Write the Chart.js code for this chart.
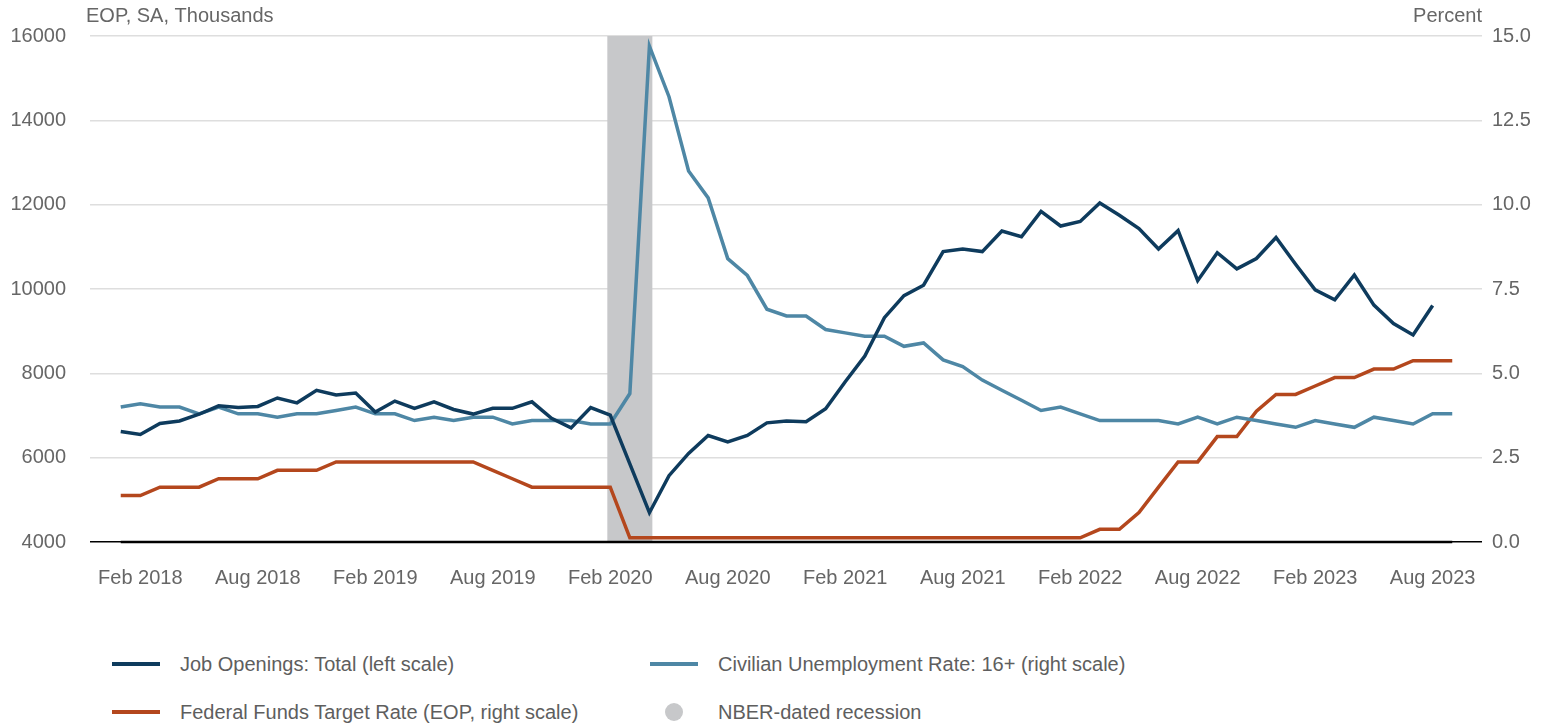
<!DOCTYPE html>
<html>
<head>
<meta charset="utf-8">
<script src="https://cdn.jsdelivr.net/npm/chart.js@4.4.1/dist/chart.umd.min.js"></script>
<style>
  html, body { margin: 0; padding: 0; background: #fff; }
  #wrap { position: relative; width: 1559px; height: 723px; }
  #chart-canvas { position: absolute; left: 0; top: 0; }
  .legend { position: absolute; left: 0; top: 640px; width: 1559px; height: 83px;
            font-family: 'Liberation Sans', Arial, sans-serif; font-size: 20px; color: #5e5e5e; }
  .legend .item { position: absolute; display: flex; align-items: center; height: 24px; }
  .legend .line { width: 48px; height: 4px; margin-right: 20px; }
  .legend .dot { width: 18px; height: 18px; border-radius: 50%; margin: 0 35px 0 15px; }
</style>
</head>
<body>
<div id="wrap">
  <canvas id="chart-canvas" width="1559" height="620"></canvas>
  <div class="legend" id="legend"></div>
</div>
<script>
// monthly, Jan 2018 .. Sep 2023
const monthNames = ['Jan','Feb','Mar','Apr','May','Jun','Jul','Aug','Sep','Oct','Nov','Dec']
const years = [2018, 2019, 2020, 2021, 2022, 2023]
const months = []
years.forEach(y => monthNames.forEach(m => months.push(m + ' ' + y)))
months.length = 69

const xTickLabels = ['Feb 2018','Aug 2018','Feb 2019','Aug 2019','Feb 2020','Aug 2020',
                     'Feb 2021','Aug 2021','Feb 2022','Aug 2022','Feb 2023','Aug 2023']

// Job Openings: Total, thousands (Jan 2018 .. Aug 2023)
const jobOpenings = [
  6620, 6550, 6810, 6870, 7030, 7230, 7190, 7215, 7415, 7300, 7596, 7487,
  7533, 7080, 7342, 7170, 7324, 7143, 7034, 7170, 7170, 7324, 6934, 6707,
  7188, 7007, 5855, 4695, 5574, 6100, 6526, 6372, 6526, 6825, 6870, 6852,
  7160, 7800, 8410, 9320, 9844, 10089, 10887, 10950, 10887, 11376, 11240, 11839,
  11494, 11603, 12038, 11748, 11431, 10950, 11385, 10198, 10860, 10479, 10724, 11222,
  10588, 9980, 9744, 10333, 9617, 9182, 8910, 9608
]

// Civilian Unemployment Rate: 16+, percent (Jan 2018 .. Sep 2023)
const unemployment = [
  4.0, 4.1, 4.0, 4.0, 3.8, 4.0, 3.8, 3.8, 3.7, 3.8, 3.8, 3.9,
  4.0, 3.8, 3.8, 3.6, 3.7, 3.6, 3.7, 3.7, 3.5, 3.6, 3.6, 3.6,
  3.5, 3.5, 4.4, 14.7, 13.2, 11.0, 10.2, 8.4, 7.9, 6.9, 6.7, 6.7,
  6.3, 6.2, 6.1, 6.1, 5.8, 5.9, 5.4, 5.2, 4.8, 4.5, 4.2, 3.9,
  4.0, 3.8, 3.6, 3.6, 3.6, 3.6, 3.5, 3.7, 3.5, 3.7, 3.6, 3.5,
  3.4, 3.6, 3.5, 3.4, 3.7, 3.6, 3.5, 3.8, 3.8
]

// Federal Funds Target Rate (EOP), percent (Jan 2018 .. Sep 2023)
const fedFunds = [
  1.375, 1.375, 1.625, 1.625, 1.625, 1.875, 1.875, 1.875, 2.125, 2.125, 2.125, 2.375,
  2.375, 2.375, 2.375, 2.375, 2.375, 2.375, 2.375, 2.125, 1.875, 1.625, 1.625, 1.625,
  1.625, 1.625, 0.125, 0.125, 0.125, 0.125, 0.125, 0.125, 0.125, 0.125, 0.125, 0.125,
  0.125, 0.125, 0.125, 0.125, 0.125, 0.125, 0.125, 0.125, 0.125, 0.125, 0.125, 0.125,
  0.125, 0.125, 0.375, 0.375, 0.875, 1.625, 2.375, 2.375, 3.125, 3.125, 3.875, 4.375,
  4.375, 4.625, 4.875, 4.875, 5.125, 5.125, 5.375, 5.375, 5.375
]

// NBER-dated recession (first and last month)
const recession = ['Feb 2020', 'Apr 2020']

const FONT = "'Liberation Sans', Arial, sans-serif"
const TEXT = '#666666'

function toPoints(values) {
    return values.map((v, i) => ({ x: i, y: v }))
}

// gray band + heavier baseline under the data
const backdrop = {
    id: 'backdrop',
    beforeDatasetsDraw(chart) {
        const { ctx, chartArea, scales } = chart
        const x = scales.x
        let x0 = x.getPixelForValue(months.indexOf(recession[0]) - 0.15)
        let x1 = x.getPixelForValue(months.indexOf(recession[1]) + 0.15)
        ctx.save()
        ctx.fillStyle = '#c7c8ca'
        ctx.fillRect(x0, chartArea.top, x1 - x0, chartArea.bottom - chartArea.top)
        ctx.strokeStyle = '#000'
        ctx.lineWidth = 2.5
        ctx.beginPath()
        ctx.moveTo(x.getPixelForValue(0), chartArea.bottom)
        ctx.lineTo(x.getPixelForValue(months.length - 1), chartArea.bottom)
        ctx.stroke()
        ctx.restore()
    },
    afterDraw(chart) {
        const { ctx, chartArea } = chart
        ctx.save()
        ctx.font = '20px ' + FONT
        ctx.fillStyle = TEXT
        ctx.textBaseline = 'middle'
        ctx.textAlign = 'left'
        ctx.fillText('EOP, SA, Thousands', 86, 16)
        ctx.textAlign = 'right'
        ctx.fillText('Percent', chartArea.right, 16)
        ctx.restore()
    }
}

let canvas = document.getElementById('chart-canvas')
let chart = new Chart(canvas.getContext('2d'), {
    type: 'line',
    data: {
        datasets: [{
            label: 'Job Openings: Total (left scale)',
            data: toPoints(jobOpenings),
            borderColor: '#0e3b5d',
            yAxisID: 'y'
        }, {
            label: 'Civilian Unemployment Rate: 16+ (right scale)',
            data: toPoints(unemployment),
            borderColor: '#4e87a5',
            yAxisID: 'y1'
        }, {
            label: 'Federal Funds Target Rate (EOP, right scale)',
            data: toPoints(fedFunds),
            borderColor: '#b4471d',
            yAxisID: 'y1'
        }]
    },
    options: {
        responsive: false,
        animation: false,
        layout: { padding: { top: 36, left: 0, right: 0, bottom: 0 } },
        elements: {
            point: { radius: 0 },
            line: { borderWidth: 3.5, tension: 0, borderJoinStyle: 'miter' }
        },
        plugins: { legend: { display: false }, tooltip: { enabled: false } },
        scales: {
            x: {
                type: 'linear',
                min: -1.57,
                max: 69.52,
                grid: { display: false, drawTicks: false },
                border: { display: false },
                afterBuildTicks: (scale) => {
                    scale.ticks = xTickLabels.map(l => ({ value: months.indexOf(l) }))
                },
                afterFit: (scale) => { scale.height = 78 },
                ticks: {
                    padding: 24,
                    maxRotation: 0,
                    autoSkip: false,
                    color: TEXT,
                    font: { family: FONT, size: 20 },
                    callback: (v) => months[v]
                }
            },
            y: {
                position: 'left',
                min: 4000,
                max: 16000,
                afterFit: (scale) => { scale.width = 90 },
                border: { display: false },
                grid: {
                    drawTicks: false,
                    lineWidth: 1.5,
                    color: (c) => c.tick && c.tick.value === 4000 ? '#000' : '#dedede'
                },
                ticks: {
                    stepSize: 2000,
                    padding: 24,
                    color: TEXT,
                    font: { family: FONT, size: 20 },
                    callback: (v) => String(v)
                }
            },
            y1: {
                position: 'right',
                min: 0,
                max: 15,
                afterFit: (scale) => { scale.width = 77 },
                border: { display: false },
                grid: { display: false, drawTicks: false },
                ticks: {
                    stepSize: 2.5,
                    padding: 10,
                    color: TEXT,
                    font: { family: FONT, size: 20 },
                    callback: (v) => v.toFixed(1)
                }
            }
        }
    },
    plugins: [backdrop]
});

// legend in two columns below the chart
function buildLegend(chart)
{
    let ds = chart.data.datasets
    let items = [
        { text: ds[0].label, color: ds[0].borderColor, left: 112, top: 12 },
        { text: ds[1].label, color: ds[1].borderColor, left: 650, top: 12 },
        { text: ds[2].label, color: ds[2].borderColor, left: 112, top: 60 },
        { text: 'NBER-dated recession', color: '#c7c8ca', left: 650, top: 60, dot: true }
    ]
    let legend = document.getElementById('legend')
    items.forEach(it => {
        let el = document.createElement('div')
        el.className = 'item'
        el.style.left = it.left + 'px'
        el.style.top = it.top + 'px'
        let mark = document.createElement('span')
        mark.className = it.dot ? 'dot' : 'line'
        mark.style.background = it.color
        let label = document.createElement('span')
        label.textContent = it.text
        el.appendChild(mark)
        el.appendChild(label)
        legend.appendChild(el)
    })
}
buildLegend(chart)
</script>
</body>
</html>
